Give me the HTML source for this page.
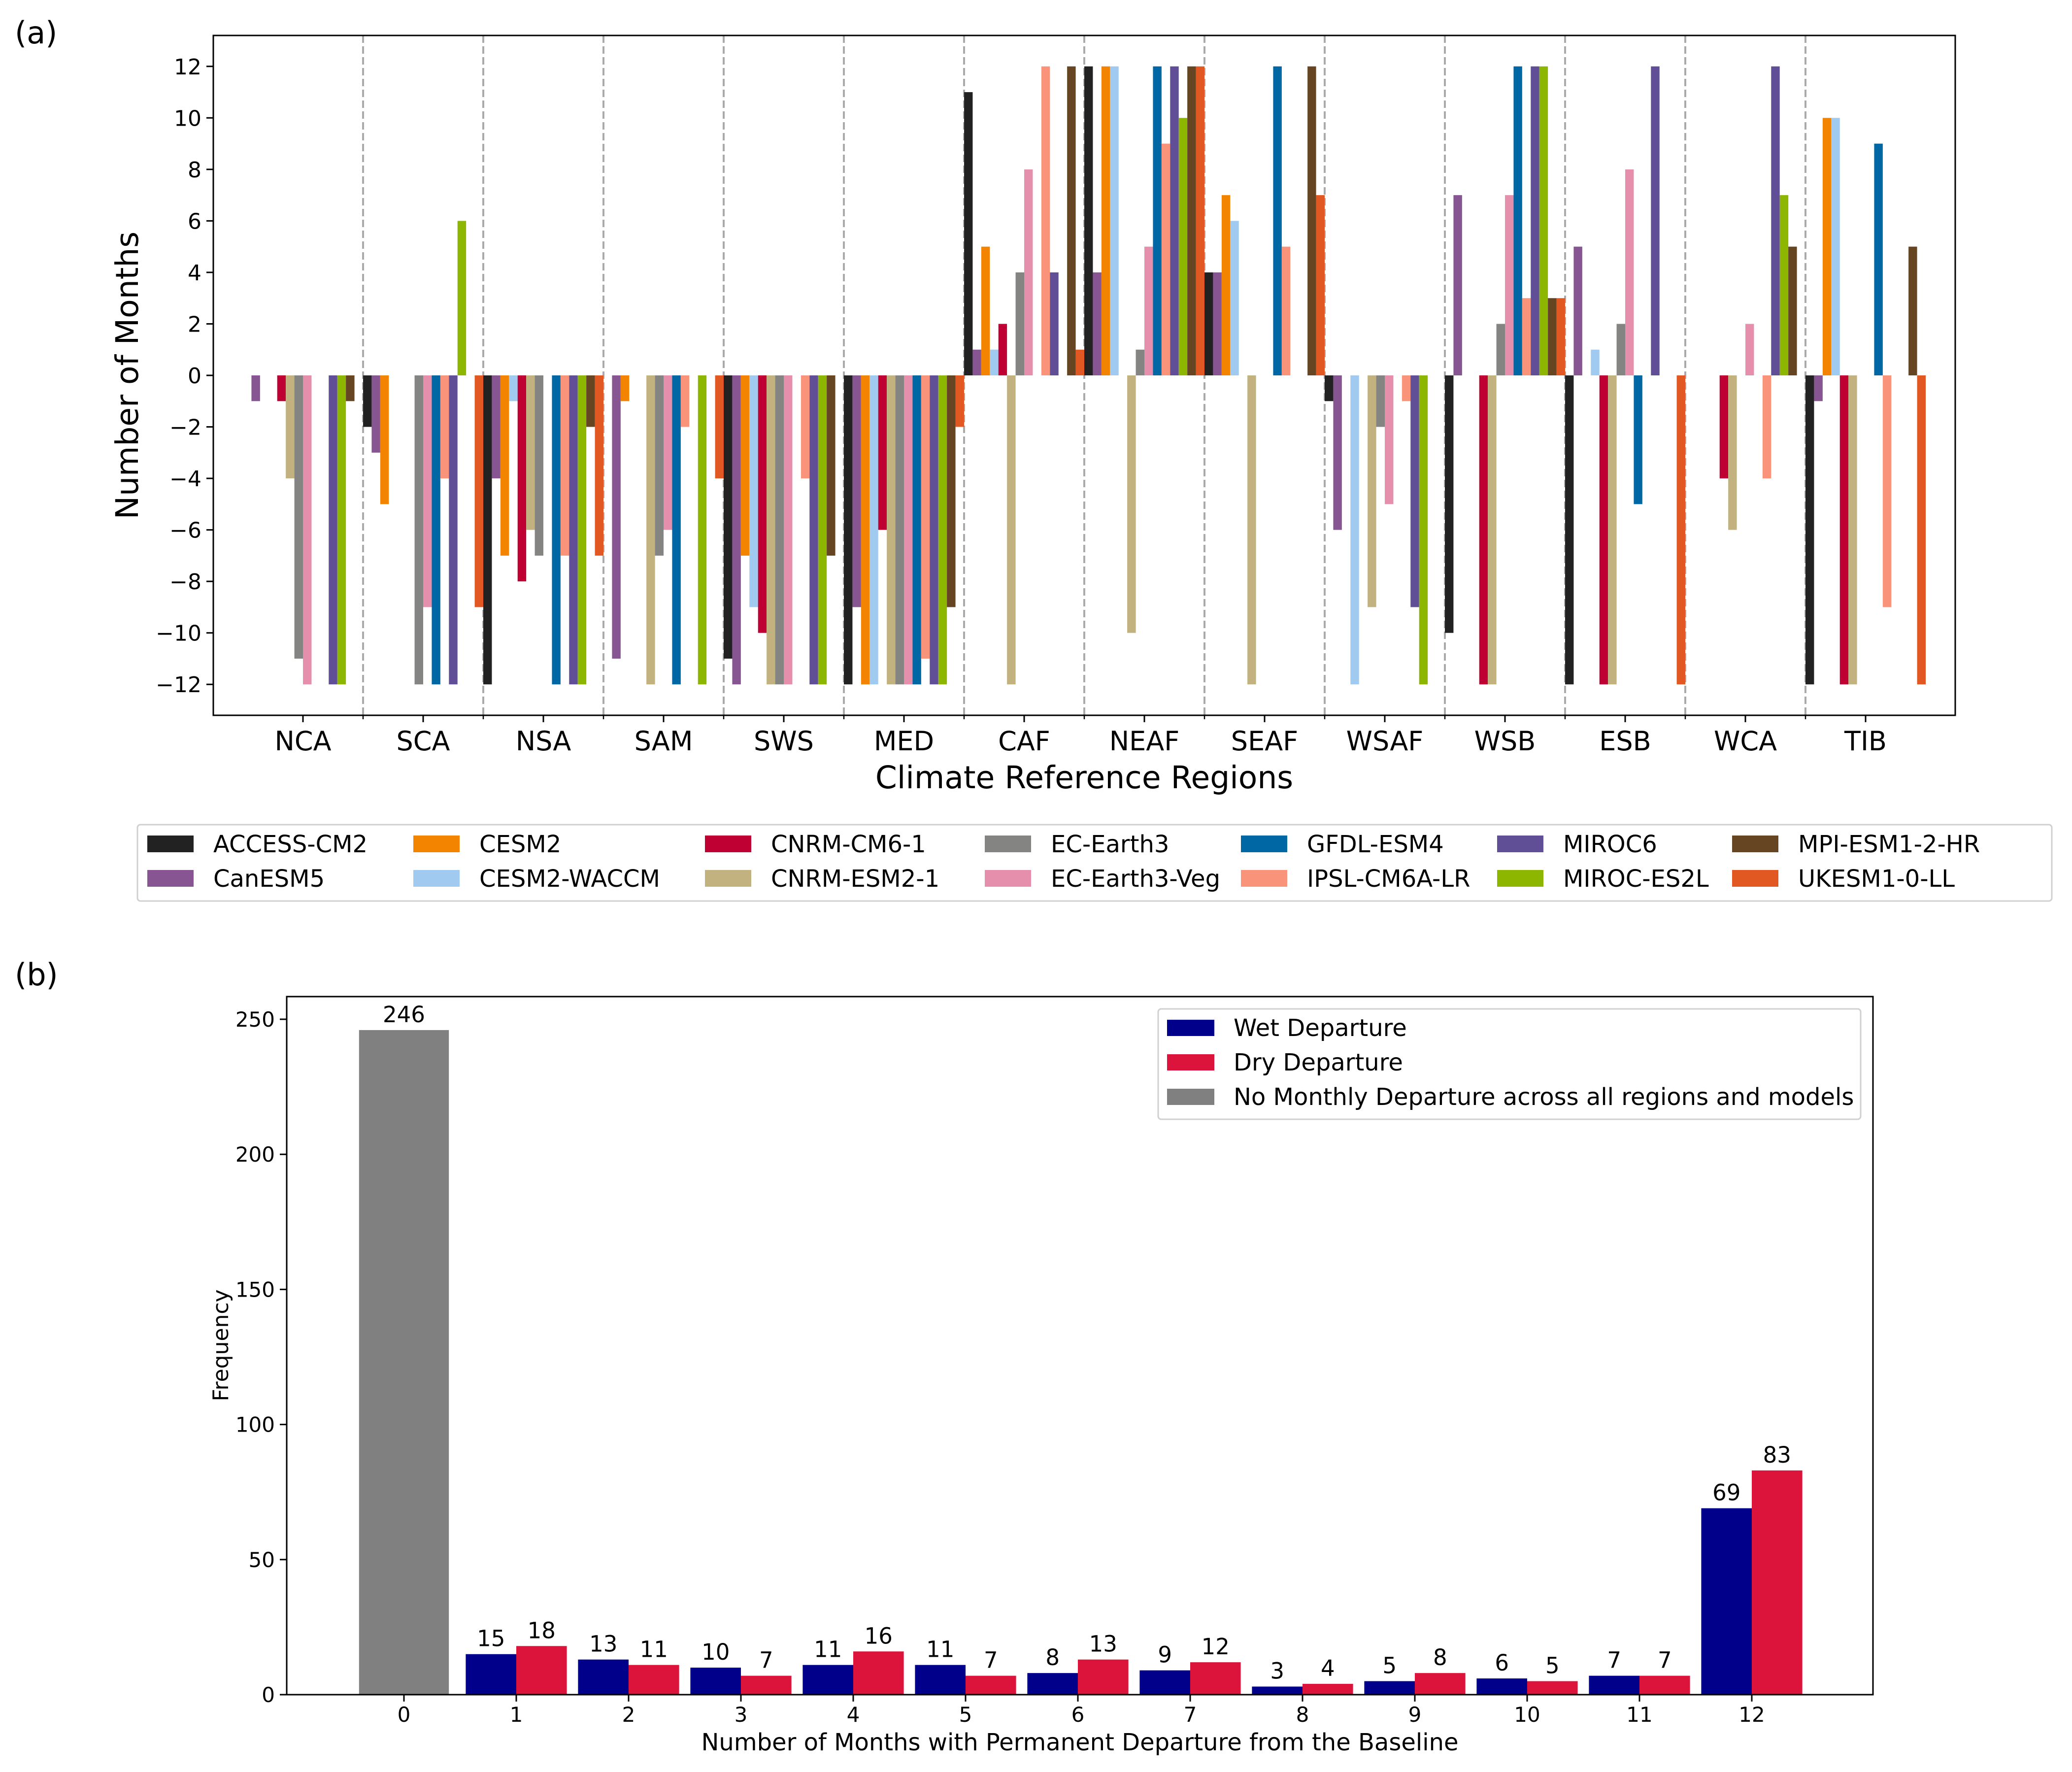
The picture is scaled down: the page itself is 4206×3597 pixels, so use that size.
<!DOCTYPE html>
<html><head><meta charset="utf-8">
<style>
html,body{margin:0;padding:0;background:#fff;}
svg{display:block;font-family:"DejaVu Sans","Liberation Sans",sans-serif;}
</style></head>
<body>
<svg id="chart" width="4206" height="3597" viewBox="0 0 4206 3597" xmlns="http://www.w3.org/2000/svg">
<rect width="4206" height="3597" fill="#fff"/>
<text x="30" y="88" font-size="62">(a)</text>
<text x="30" y="2000" font-size="62">(b)</text>
<g id="pa"></g>
<g id="pb"></g>
</svg>
<script>
// ---------- Panel (a) data ----------
const regions = ["NCA","SCA","NSA","SAM","SWS","MED","CAF","NEAF","SEAF","WSAF","WSB","ESB","WCA","TIB"];
const models = ["ACCESS-CM2","CanESM5","CESM2","CESM2-WACCM","CNRM-CM6-1","CNRM-ESM2-1","EC-Earth3","EC-Earth3-Veg","GFDL-ESM4","IPSL-CM6A-LR","MIROC6","MIROC-ES2L","MPI-ESM1-2-HR","UKESM1-0-LL"];
const modelColors = ["#222222","#875692","#f38400","#a1caf1","#be0032","#c2b280","#848482","#e68fac","#0067a5","#f99379","#604e97","#8db600","#654522","#e25822"];
// values per region, in model order
const valNCA  = [0,-1,0,0,-1,-4,-11,-12,0,0,-12,-12,-1,0];
const valSCA  = [-2,-3,-5,0,0,0,-12,-9,-12,-4,-12,6,0,-9];
const valNSA  = [-12,-4,-7,-1,-8,-6,-7,0,-12,-7,-12,-12,-2,-7];
const valSAM  = [0,-11,-1,0,0,-12,-7,-6,-12,-2,0,-12,0,-4];
const valSWS  = [-11,-12,-7,-9,-10,-12,-12,-12,0,-4,-12,-12,-7,0];
const valMED  = [-12,-9,-12,-12,-6,-12,-12,-12,-12,-11,-12,-12,-9,-2];
const valCAF  = [11,1,5,1,2,-12,4,8,0,12,4,0,12,1];
const valNEAF = [12,4,12,12,0,-10,1,5,12,9,12,10,12,12];
const valSEAF = [4,4,7,6,0,-12,0,0,12,5,0,0,12,7];
const valWSAF = [-1,-6,0,-12,0,-9,-2,-5,0,-1,-9,-12,0,0];
const valWSB  = [-10,7,0,0,-12,-12,2,7,12,3,12,12,3,3];
const valESB  = [-12,5,0,1,-12,-12,2,8,-5,0,12,0,0,-12];
const valWCA  = [0,0,0,0,-4,-6,0,2,0,-4,12,7,5,0];
const valTIB  = [-12,-1,10,10,-12,-12,0,0,9,-9,0,0,5,-12];
const regionValues = [valNCA,valSCA,valNSA,valSAM,valSWS,valMED,valCAF,valNEAF,valSEAF,valWSAF,valWSB,valESB,valWCA,valTIB];
const yTicksA = [-12,-10,-8,-6,-4,-2,0,2,4,6,8,10,12];

// ---------- Panel (b) data ----------
const monthsB = [1,2,3,4,5,6,7,8,9,10,11,12];
const wetB = [15,13,10,11,11,8,9,3,5,6,7,69];
const dryB = [18,11,7,16,7,13,12,4,8,5,7,83];
const noDepartureB = 246;
const xTickLabelsB = ["0","1","2","3","4","5","6","7","8","9","10","11","12"];
const yTicksB = [0,50,100,150,200,250];

const NS="http://www.w3.org/2000/svg";
function mk(tag, attrs, parent, text){
  const e=document.createElementNS(NS,tag);
  for(const k in attrs) e.setAttribute(k,attrs[k]);
  if(text!==undefined) e.textContent=text;
  parent.appendChild(e); return e;
}

// ---------- Panel (a) ----------
(function(){
  const g=document.getElementById('pa');
  const L=433,R=3969,T=72,B=1452;
  const xA=i=>615+244*i;
  const yA=v=>762-52.27*v;
  const bw=244/14;
  for(let i=0;i<regions.length-1;i++){
    const x=xA(i+0.5);
    const d=mk('line',{x1:x,x2:x,y1:T,y2:B,stroke:'#aaaaaa','stroke-width':4,'stroke-dasharray':'15,7'},g);
    
    
    const t=mk('line',{x1:x,x2:x,y1:B,y2:B+8,stroke:'#000','stroke-width':2.5},g);
    
    
  }
  regions.forEach((r,i)=>{
    const vals=regionValues[i];
    vals.forEach((v,k)=>{
      if(v===0) return;
      const x=xA(i)-122+k*bw;
      const y0=yA(0), y1=yA(v);
      const b=mk('rect',{x:x,y:Math.min(y0,y1),width:bw,height:Math.abs(y1-y0),fill:modelColors[k]},g);
      
      
    });
  });
  const fr=mk('rect',{x:L,y:T,width:R-L,height:B-T,fill:'none',stroke:'#000','stroke-width':3},g);
  
  
  yTicksA.forEach(v=>{
    const y=yA(v);
    mk('line',{x1:L-14,x2:L,y1:y,y2:y,stroke:'#000','stroke-width':3},g);
    const t=mk('text',{x:L-24,y:y+16,'font-size':44,'text-anchor':'end'},g,(v<0?'\u2212'+(-v):String(v)));
    
    
  });
  regions.forEach((r,i)=>{
    const x=xA(i);
    mk('line',{x1:x,x2:x,y1:B,y2:B+14,stroke:'#000','stroke-width':3},g);
    const t=mk('text',{x:x,y:1523,'font-size':54,'text-anchor':'middle'},g,r);
    
    
  });
  const xl=mk('text',{x:(L+R)/2,y:1600,'font-size':63,'text-anchor':'middle'},g,'Climate Reference Regions');
  
  
  const yl=mk('text',{x:0,y:0,'font-size':63,'text-anchor':'middle',transform:'translate(280,762) rotate(-90)'},g,'Number of Months');
  
  
  const lg=mk('g',{},g);
  
  
  mk('rect',{x:279,y:1674,width:3886,height:155,rx:6,fill:'#fff',stroke:'#d0d0d0','stroke-width':3},lg);
  const colText=[433,973,1565,2133,2653,3173,3650];
  const rowY=[1713,1783];
  models.forEach((m,k)=>{
    const c=Math.floor(k/2), r=k%2;
    const tx=colText[c], cy=rowY[r];
    const e=mk('g',{},lg);
    
    
    mk('rect',{x:tx-134,y:cy-17,width:94,height:34,fill:modelColors[k]},e);
    mk('text',{x:tx,y:cy+17,'font-size':48},e,m);
  });
})();

// ---------- Panel (b) ----------
(function(){
  const g=document.getElementById('pb');
  const L=582,R=3802,T=2023,B=3440;
  const xB=v=>820+228*v;
  const yB=v=>3440-5.484*v;
  const w=0.45;
  const gb=mk('rect',{x:xB(-0.4),y:yB(noDepartureB),width:xB(0.4)-xB(-0.4),height:yB(0)-yB(noDepartureB),fill:'#808080'},g);
  
  
  const gl=mk('text',{x:xB(0),y:yB(noDepartureB)-16,'font-size':45,'text-anchor':'middle'},g,String(noDepartureB));
  
  
  monthsB.forEach((m,i)=>{
    const wv=wetB[i], dv=dryB[i];
    const wb=mk('rect',{x:xB(m-w),y:yB(wv),width:xB(m)-xB(m-w),height:yB(0)-yB(wv),fill:'#00008b'},g);
    
    
    const db=mk('rect',{x:xB(m),y:yB(dv),width:xB(m+w)-xB(m),height:yB(0)-yB(dv),fill:'#dc143c'},g);
    
    
    const wl=mk('text',{x:xB(m-w/2),y:yB(wv)-16,'font-size':45,'text-anchor':'middle'},g,String(wv));
    
    
    const dl=mk('text',{x:xB(m+w/2),y:yB(dv)-16,'font-size':45,'text-anchor':'middle'},g,String(dv));
    
    
  });
  const fr=mk('rect',{x:L,y:T,width:R-L,height:B-T,fill:'none',stroke:'#000','stroke-width':3},g);
  
  
  yTicksB.forEach(v=>{
    const y=yB(v);
    mk('line',{x1:L-14,x2:L,y1:y,y2:y,stroke:'#000','stroke-width':3},g);
    const t=mk('text',{x:L-24,y:y+15,'font-size':42,'text-anchor':'end'},g,String(v));
    
    
  });
  xTickLabelsB.forEach((lab,i)=>{
    const x=xB(i);
    mk('line',{x1:x,x2:x,y1:B,y2:B+14,stroke:'#000','stroke-width':3},g);
    const t=mk('text',{x:x,y:3495,'font-size':42,'text-anchor':'middle'},g,lab);
    
    
  });
  const xl=mk('text',{x:(L+R)/2,y:3553,'font-size':48,'text-anchor':'middle'},g,'Number of Months with Permanent Departure from the Baseline');
  
  
  const yl=mk('text',{x:0,y:0,'font-size':44,'text-anchor':'middle',transform:'translate(463,2731) rotate(-90)'},g,'Frequency');
  
  
  const lg=mk('g',{},g);
  
  
  mk('rect',{x:2351,y:2048,width:1426,height:224,rx:6,fill:'#fff',stroke:'#d0d0d0','stroke-width':3},lg);
  const items=[["Wet Departure","#00008b"],["Dry Departure","#dc143c"],["No Monthly Departure across all regions and models","#808080"]];
  items.forEach((it,k)=>{
    const cy=2086+70*k;
    const e=mk('g',{},lg);
    
    
    mk('rect',{x:2369,y:cy-16,width:96,height:33,fill:it[1]},e);
    mk('text',{x:2504,y:cy+17,'font-size':48},e,it[0]);
  });
})();
</script>
</body></html>
